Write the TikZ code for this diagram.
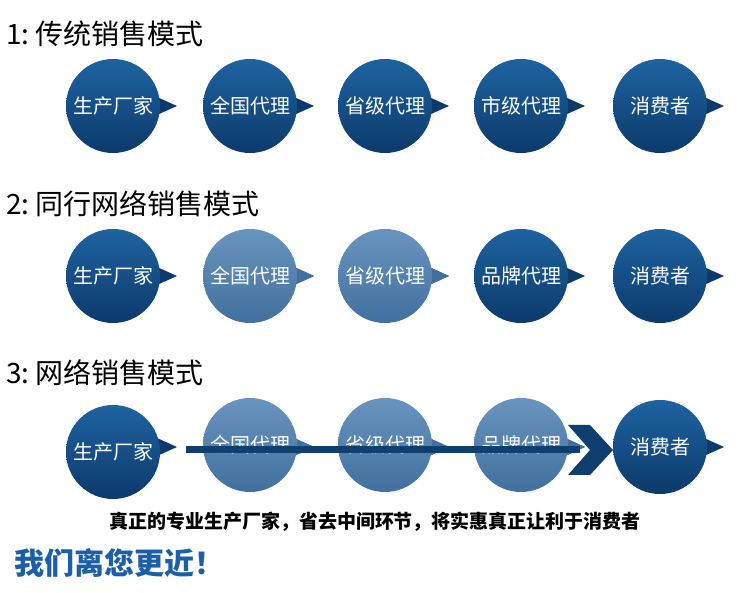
\documentclass[tikz,border=0pt]{standalone}
\usepackage{fontspec}
\newfontfamily\cjk{Noto Sans CJK SC}
\begin{document}
\begin{tikzpicture}[x=1pt,y=-1pt,
  dk/.style={circle,minimum size=94pt,inner sep=0pt,top color=dkA,bottom color=dkB,text=white,font=\cjk\fontsize{20pt}{20pt}\selectfont},
  lt/.style={circle,minimum size=94pt,inner sep=0pt,top color=ltA,bottom color=ltB,text=white,font=\cjk\fontsize{20pt}{20pt}\selectfont},
  ttl/.style={anchor=west,inner sep=0pt,font=\cjk\fontsize{28pt}{28pt}\selectfont}]
\definecolor{dkA}{HTML}{1E63A0}\definecolor{dkB}{HTML}{0C3A6C}
\definecolor{ltA}{HTML}{6894BE}\definecolor{ltB}{HTML}{42709E}
\definecolor{arr}{HTML}{0E3F6E}\definecolor{txtb}{HTML}{1A5FA8}
\useasboundingbox (0,0) rectangle (750,593);
\fill[white] (0,0) rectangle (750,593);
\node[ttl] (t1) at (6,34) {1:\ 传统销售模式};
\node[ttl] (t2) at (6,204) {2:\ 同行网络销售模式};
\node[ttl] (t3) at (6,373) {3:\ 网络销售模式};
\foreach \x in {113,250,385,521,660}{
  \foreach \y/\c in {106/dkB,276/dkB,447/dkB}{
    \fill[\c] (\x+35,\y-13) -- (\x+64,\y) -- (\x+35,\y+13) -- cycle;}}
\fill[ltB] (285,263) -- (314,276) -- (285,289) -- cycle;
\fill[ltB] (420,263) -- (449,276) -- (420,289) -- cycle;
\fill[ltB] (285,434) -- (314,447) -- (285,460) -- cycle;
\fill[ltB] (420,434) -- (449,447) -- (420,460) -- cycle;
\fill[ltB] (556,434) -- (585,447) -- (556,460) -- cycle;
\node[dk] (a1) at (113,106) {生产厂家};
\node[dk] (a2) at (250,106) {全国代理};
\node[dk] (a3) at (385,106) {省级代理};
\node[dk] (a4) at (521,106) {市级代理};
\node[dk] (a5) at (660,106) {消费者};
\node[dk] (b1) at (113,276) {生产厂家};
\node[lt] (b2) at (250,276) {全国代理};
\node[lt] (b3) at (385,276) {省级代理};
\node[dk] (b4) at (521,276) {品牌代理};
\node[dk] (b5) at (660,276) {消费者};
\node[dk] (c1) at (113,452) {生产厂家};
\node[lt] (c2) at (250,445) {全国代理};
\node[lt] (c3) at (385,445) {省级代理};
\node[lt] (c4) at (521,445) {品牌代理};
\node[dk] (c5) at (660,447) {消费者};
\fill[arr] (186,446) rectangle (580,453);
\fill[arr] (568,425) -- (590,425) -- (613,450) -- (590,475) -- (568,475) -- (590,450) -- cycle;
\node[inner sep=0pt,font=\cjk\bfseries\fontsize{19pt}{19pt}\selectfont] (s) at (375,522) {真正的专业生产厂家，省去中间环节，将实惠真正让利于消费者};
\node[anchor=west,inner sep=0pt,text=txtb,font=\cjk\bfseries\fontsize{30pt}{30pt}\selectfont] (m) at (14,563) {我们离您更近！};
\end{tikzpicture}
\end{document}
